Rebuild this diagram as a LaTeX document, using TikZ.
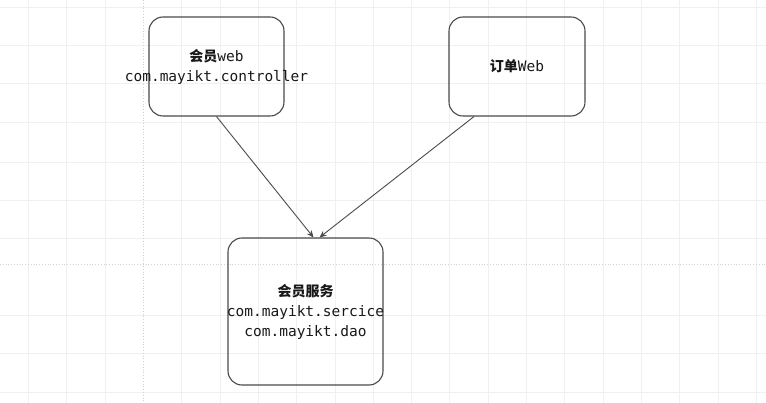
\documentclass[tikz,border=0pt]{standalone}
\usepackage{fontspec}
\setmainfont{DejaVu Sans Mono}
\newfontfamily\cjk{Noto Sans CJK SC}
\usetikzlibrary{arrows.meta,positioning}
\definecolor{gridgray}{HTML}{F0F0F0}
\definecolor{dotgray}{HTML}{D2D2D2}
\definecolor{edge}{HTML}{4A4A4A}
\newcommand{\zh}[1]{{\cjk\bfseries\fontsize{14}{20}\selectfont #1}}

\begin{document}
\begin{tikzpicture}[x=1pt,y=-1pt,>={Stealth[length=7pt,width=6pt]},
    box/.style={draw=edge,line width=1.1pt,rounded corners=14pt,inner sep=0pt},
    boxtext/.style={align=center,inner sep=0pt,text=black!90,
      font=\fontsize{14.5}{20}\selectfont},
    link/.style={->,edge,line width=0.9pt}]
    \fill[white] (0,0) rectangle (766,403);
    \useasboundingbox (0,0) rectangle (766,403);
    % background grid
    \foreach \x in {28,66,105,181,220,258,296,335,373,411,449,488,526,564,603,641,679,718,756}
      \draw[gridgray,line width=0.8pt] (\x,0)--(\x,403);
    \foreach \y in {7,45,83,122,162,200,238,315,353,392}
      \draw[gridgray,line width=0.8pt] (0,\y)--(766,\y);
    \draw[dotgray,dotted,line width=0.8pt] (143,0)--(143,403);
    \draw[dotgray,dotted,line width=0.8pt] (0,264)--(766,264);

    \node[box,minimum width=135pt,minimum height=99pt] (mweb) at (216.5,66.5) {};
    \node[box,minimum width=136pt,minimum height=99pt] (oweb) at (517,66.5) {};
    \node[box,minimum width=155pt,minimum height=147pt] (msvc) at (305.5,311.5) {};

    \node[boxtext] (mwebtxt) at (mweb.center) {\zh{会员}web\\com.mayikt.controller};
    \node[boxtext] (owebtxt) at (oweb.center) {\zh{订单}Web};
    \node[boxtext] (msvctxt) at (msvc.center) {\zh{会员服务}\\com.mayikt.sercice\\com.mayikt.dao};

    \draw[link] (mweb.south) -- ([xshift=8pt]msvc.north);
    \draw[link] ([xshift=-43pt]oweb.south) -- ([xshift=14pt]msvc.north);
  \end{tikzpicture}
\end{document}
